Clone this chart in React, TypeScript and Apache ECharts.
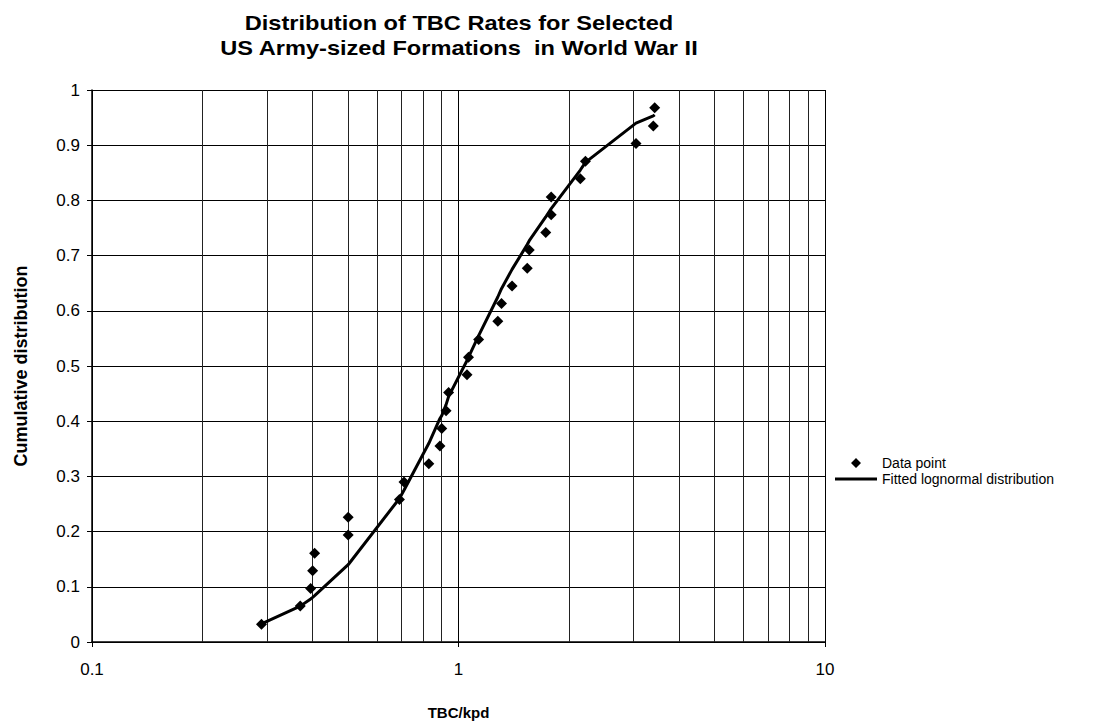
import React, { useEffect, useRef } from "react";
import * as echarts from "echarts";

const FONT = "'Liberation Sans', Arial, sans-serif";

const titleLines = [
  "Distribution of TBC Rates for Selected",
  "US Army-sized Formations  in World War II",
];
const xName = "TBC/kpd";
const yName = "Cumulative distribution";
const seriesNames = ["Data point", "Fitted lognormal distribution"];

// observed data points (TBC/kpd, cumulative distribution)
const pointX = [0.29, 0.37, 0.395, 0.4, 0.405, 0.5, 0.5, 0.69, 0.71, 0.83, 0.89, 0.9, 0.925, 0.94, 1.055, 1.065, 1.135, 1.28, 1.31, 1.4, 1.54, 1.56, 1.73, 1.79, 1.79, 2.15, 2.22, 3.05, 3.4, 3.43];
const pointY = [0.032, 0.065, 0.097, 0.129, 0.161, 0.194, 0.226, 0.258, 0.29, 0.323, 0.355, 0.387, 0.419, 0.452, 0.484, 0.516, 0.548, 0.581, 0.613, 0.645, 0.677, 0.71, 0.742, 0.774, 0.806, 0.839, 0.871, 0.903, 0.935, 0.968];

// fitted curve vertices
const fitX = [0.29, 0.37, 0.395, 0.4, 0.405, 0.5, 0.69, 0.71, 0.83, 0.89, 0.9, 0.925, 0.94, 1.055, 1.065, 1.135, 1.28, 1.31, 1.4, 1.54, 1.56, 1.73, 1.79, 2.15, 2.22, 3.05, 3.4, 3.43];
const fitY = [0.033, 0.065, 0.078, 0.081, 0.084, 0.14, 0.26, 0.275, 0.36, 0.405, 0.41, 0.43, 0.445, 0.51, 0.516, 0.555, 0.625, 0.64, 0.675, 0.72, 0.727, 0.77, 0.785, 0.855, 0.869, 0.94, 0.953, 0.955];

// minor vertical grid lines of the log axis
const minorX = [0.2, 0.3, 0.4, 0.5, 0.6, 0.7, 0.8, 0.9, 2, 3, 4, 5, 6, 7, 8, 9];

// legend icons: a 42x10 box holding a centred diamond, and a 3px bar
const diamondIcon = "path://M0,5 L0.01,5 Z M21,0 L26,5 L21,10 L16,5 Z M41.99,5 L42,5 Z";
const lineIcon = "path://M0,0 L0.01,0 Z M0,3.5 L42,3.5 L42,6.5 L0,6.5 Z M41.99,10 L42,10 Z";

export default function App() {
  const ref = useRef<HTMLDivElement>(null);
  useEffect(() => {
    const chart = echarts.init(ref.current!, null, { renderer: "svg" });
    chart.setOption({
      animation: false,
      backgroundColor: "#fff",
      textStyle: { fontFamily: FONT },
      grid: { left: 92, right: 273, top: 90, bottom: 81, containLabel: false, outerBoundsMode: "none" },
      graphic: [
        {
          type: "text",
          x: 459,
          y: 23,
          scaleX: 1.18,
          style: {
            text: titleLines[0],
            font: `bold 20px ${FONT}`,
            fill: "#000",
            textAlign: "center",
            textVerticalAlign: "middle",
          },
        },
        {
          type: "text",
          x: 459,
          y: 48,
          scaleX: 1.18,
          style: {
            text: titleLines[1],
            font: `bold 20px ${FONT}`,
            fill: "#000",
            textAlign: "center",
            textVerticalAlign: "middle",
          },
        },
      ],
      legend: {
        orient: "vertical",
        left: 830,
        top: 451,
        itemWidth: 42,
        itemHeight: 10,
        itemGap: 2,
        textStyle: { fontSize: 14, color: "#000", fontFamily: FONT },
        data: [
          { name: seriesNames[0], icon: diamondIcon, itemStyle: { color: "#000", opacity: 1 } },
          { name: seriesNames[1], icon: lineIcon, itemStyle: { color: "#000", opacity: 1 } },
        ],
      },
      xAxis: {
        type: "log",
        logBase: 10,
        min: 0.1,
        max: 10,
        name: xName,
        nameLocation: "middle",
        nameGap: 63,
        nameTextStyle: { fontWeight: "bold", fontSize: 15, color: "#000", fontFamily: FONT },
        axisLine: { show: true, lineStyle: { color: "#000", width: 1.5 } },
        axisTick: { show: true, length: 5, lineStyle: { color: "#000" } },
        axisLabel: { fontSize: 17, color: "#000", margin: 19, fontFamily: FONT },
        splitLine: { show: true, lineStyle: { color: "#000", width: 1 } },
      },
      yAxis: {
        type: "value",
        min: 0,
        max: 1,
        interval: 0.1,
        name: yName,
        nameLocation: "middle",
        nameGap: 62,
        nameTextStyle: { fontWeight: "bold", fontSize: 18, color: "#000", fontFamily: FONT },
        axisLine: { show: true, lineStyle: { color: "#000", width: 1.5 } },
        axisTick: { show: true, length: 5, lineStyle: { color: "#000" } },
        axisLabel: { fontSize: 17, color: "#000", margin: 12, fontFamily: FONT },
        splitLine: { show: true, lineStyle: { color: "#000", width: 1 } },
      },
      series: [
        {
          name: seriesNames[1],
          type: "line",
          data: fitX.map((x, i) => [x, fitY[i]]),
          showSymbol: false,
          symbol: "none",
          lineStyle: { color: "#000", width: 3 },
          itemStyle: { color: "#000" },
          z: 3,
          markLine: {
            silent: true,
            symbol: ["none", "none"],
            label: { show: false },
            lineStyle: { color: "#222", width: 1, type: "solid" },
            data: minorX.map((v) => ({ xAxis: v })),
            z: 1,
          },
        },
        {
          name: seriesNames[0],
          type: "scatter",
          data: pointX.map((x, i) => [x, pointY[i]]),
          symbol: "diamond",
          symbolSize: 11,
          itemStyle: { color: "#000", opacity: 1 },
          z: 4,
        },
      ],
    });
    return () => chart.dispose();
  }, []);
  return (
    <div
      ref={ref}
      style={{ position: "fixed", left: 0, top: 0, width: 1098, height: 723, background: "#fff" }}
    />
  );
}
